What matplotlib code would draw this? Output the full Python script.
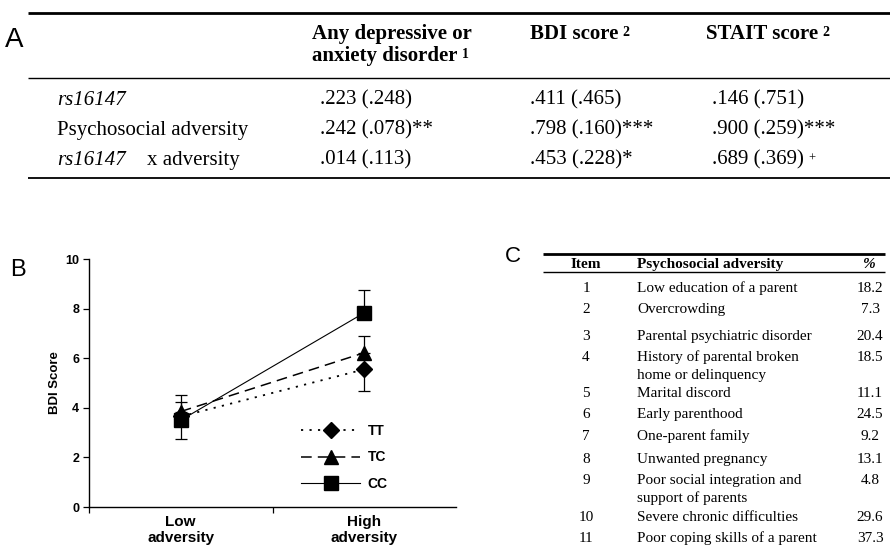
import matplotlib
matplotlib.use('Agg')
import matplotlib.pyplot as plt
from matplotlib.lines import Line2D

# ---------------- data ----------------
tableA_headers = ["Any depressive or\nanxiety disorder", "BDI score", "STAIT score"]
tableA_header_sup = ["1", "2", "2"]
tableA_rows = ["rs16147", "Psychosocial adversity", "rs16147|x adversity"]
tableA_values = [[".223 (.248)", ".411 (.465)", ".146 (.751)"],
                 [".242 (.078)**", ".798 (.160)***", ".900 (.259)***"],
                 [".014 (.113)", ".453 (.228)*", ".689 (.369)"]]
tableA_value_sup = [["", "", ""], ["", "", ""], ["", "", "+"]]

groups = ["Low\nadversity", "High\nadversity"]
genotypes = ["TT", "TC", "CC"]
bdi_TT = [3.65, 5.55]
bdi_TC = [3.85, 6.22]
bdi_CC = [3.50, 7.83]
err_TT_lower = [0.90, 0.88]
err_TC_upper = [0.65, 0.67]
err_CC_upper = [0.75, 0.94]

tableC_headers = ["Item", "Psychosocial adversity", "%"]
items = ["1", "2", "3", "4", "5", "6", "7", "8", "9", "10", "11"]
adversity = ["Low education of a parent", "Overcrowding", "Parental psychiatric disorder",
             "History of parental broken\nhome or delinquency", "Marital discord",
             "Early parenthood", "One-parent family", "Unwanted pregnancy",
             "Poor social integration and\nsupport of parents", "Severe chronic difficulties",
             "Poor coping skills of a parent"]
percent = ["18.2", "7.3", "20.4", "18.5", "11.1", "24.5", "9.2", "13.1", "4.8", "29.6", "37.3"]

# ---------------- layout ----------------
W, H = 890, 546
fig = plt.figure(figsize=(8.9, 5.46), dpi=100)
SERIF = 'Liberation Serif'
SANS = 'Liberation Sans'


def fx(x):
    return x / W


def fy(y):
    return 1 - y / H


def hline(x0, x1, y, lw):
    fig.add_artist(Line2D([fx(x0), fx(x1)], [fy(y), fy(y)], transform=fig.transFigure,
                          color='black', lw=lw, solid_capstyle='butt'))


renderer = fig.canvas.get_renderer()


def stext(x, y, s, size, **kw):
    # y is the visual centre of capitals; place at baseline
    off = size * 100 / 72 * 0.33
    return fig.text(fx(x), fy(y + off), s, family=SERIF, fontsize=size,
                    va='baseline', **kw)


def text_with_sup(x, y, s, sup, size, supsize, weight='normal', ha='left'):
    t = stext(x, y, s, size, weight=weight, ha=ha)
    if sup:
        bb = t.get_window_extent(renderer)
        fig.text(bb.x1 / W + 4 / W, (bb.y1 - 2) / H, sup, family=SERIF, fontsize=supsize,
                 weight=weight, ha='left', va='top')
    return t

# ---- Panel A ----
fig.text(fx(5), fy(40), "A", family=SANS, fontsize=20, ha='left', va='center')
hline(28, 890, 13, 2.0)
hline(28, 890, 78, 1.0)
hline(28, 890, 178, 1.3)

head_x = [312, 530, 706]
for hx, h, sp in zip(head_x, tableA_headers, tableA_header_sup):
    lines = h.split("\n")
    for i, ln in enumerate(lines):
        yy = 32 + 22 * i
        text_with_sup(hx, yy, ln, sp if i == len(lines) - 1 else "", 15, 10, weight='bold')

row_y = [98, 128, 158]
val_x = [320, 530, 712]
for ry, r, vals, sups in zip(row_y, tableA_rows, tableA_values, tableA_value_sup):
    if "|" in r:
        a, b = r.split("|")
        stext(57, ry, a, 15, style='italic', ha='left')
        stext(147, ry, b, 15, ha='left')
    elif r.startswith("rs"):
        stext(57, ry, r, 15, style='italic', ha='left')
    else:
        stext(57, ry, r, 15, ha='left')
    for vx, v, s in zip(val_x, vals, sups):
        text_with_sup(vx, ry, v, s, 15, 9)

# ---- Panel B ----
fig.text(fx(10), fy(270), "B", family=SANS, fontsize=17, ha='left', va='center')
ax = fig.add_axes([fx(89), fy(507), (456 - 89) / W, (507 - 259) / H])
xpos = [1, 3]
zero = [0, 0]
ax.errorbar(xpos, bdi_TT, yerr=[err_TT_lower, zero], fmt='none', ecolor='black',
            elinewidth=0.9, capsize=4.5, capthick=0.9, zorder=2)
ax.errorbar(xpos, bdi_TC, yerr=[zero, err_TC_upper], fmt='none', ecolor='black',
            elinewidth=0.9, capsize=4.5, capthick=0.9, zorder=2)
ax.errorbar(xpos, bdi_CC, yerr=[zero, err_CC_upper], fmt='none', ecolor='black',
            elinewidth=0.9, capsize=4.5, capthick=0.9, zorder=2)
l1, = ax.plot(xpos, bdi_TT, color='black', lw=1.3, linestyle=(0, (1.2, 3.5)),
              marker='D', ms=8, zorder=3, label=genotypes[0])
l2, = ax.plot(xpos, bdi_TC, color='black', lw=1.1, linestyle=(0, (7, 4)),
              marker='^', ms=10, zorder=3, label=genotypes[1])
l3, = ax.plot(xpos, bdi_CC, color='black', lw=0.8, linestyle='-',
              marker='s', ms=10, zorder=4, label=genotypes[2])
ax.set_xlim(0, 4)
ax.set_ylim(0, 10)
ax.set_yticks([0, 2, 4, 6, 8, 10])
ax.set_xticks([0, 2])
ax.set_xticklabels([])
ax.set_xticks(xpos, minor=True)
ax.set_xticklabels(groups, minor=True, fontsize=11, family=SANS, weight='bold')
ax.tick_params(axis='x', which='minor', length=0, pad=6)
ax.tick_params(axis='x', which='major', length=4, width=0.9, direction='out')
ax.tick_params(axis='y', length=4, width=0.9, direction='out', pad=3)
for lab in ax.get_yticklabels():
    lab.set_family(SANS)
    lab.set_weight('bold')
    lab.set_fontsize(9)
for lab in ax.get_xticklabels(minor=True):
    lab.set_linespacing(1.15)
ax.spines['top'].set_visible(False)
ax.spines['right'].set_visible(False)
ax.spines['left'].set_linewidth(1.0)
ax.spines['bottom'].set_linewidth(1.0)
ax.set_ylabel("BDI Score", family=SANS, weight='bold', fontsize=9.5, labelpad=3)
leg = ax.legend(handles=[l1, l2, l3], loc='center', bbox_to_anchor=(0.695, 0.2),
                frameon=False, numpoints=1, handlelength=4.3, handletextpad=0.5,
                labelspacing=0.9, borderpad=0,
                prop={'family': SANS, 'weight': 'bold', 'size': 10})

# ---- Panel C ----
fig.text(fx(505), fy(257), "C", family=SANS, fontsize=16, ha='left', va='center')
hline(543, 885, 254, 2.0)
hline(543, 885, 272, 1.0)
stext(586, 263, tableC_headers[0], 11, weight='bold', ha='center')
stext(637, 263, tableC_headers[1], 11, weight='bold', ha='left')
stext(868, 263, tableC_headers[2], 11, weight='bold', style='italic', ha='center')
rowC_y = [287, 308, 335, 356, 392, 413, 435, 458, 479, 516, 537]
for yy, it, adv, pc in zip(rowC_y, items, adversity, percent):
    stext(586, yy, it, 11, ha='center')
    for j, ln in enumerate(adv.split("\n")):
        stext(637, yy + 18 * j, ln, 11, ha='left')
    stext(870, yy, pc, 11, ha='center')

fig.savefig("out.png", dpi=100)
